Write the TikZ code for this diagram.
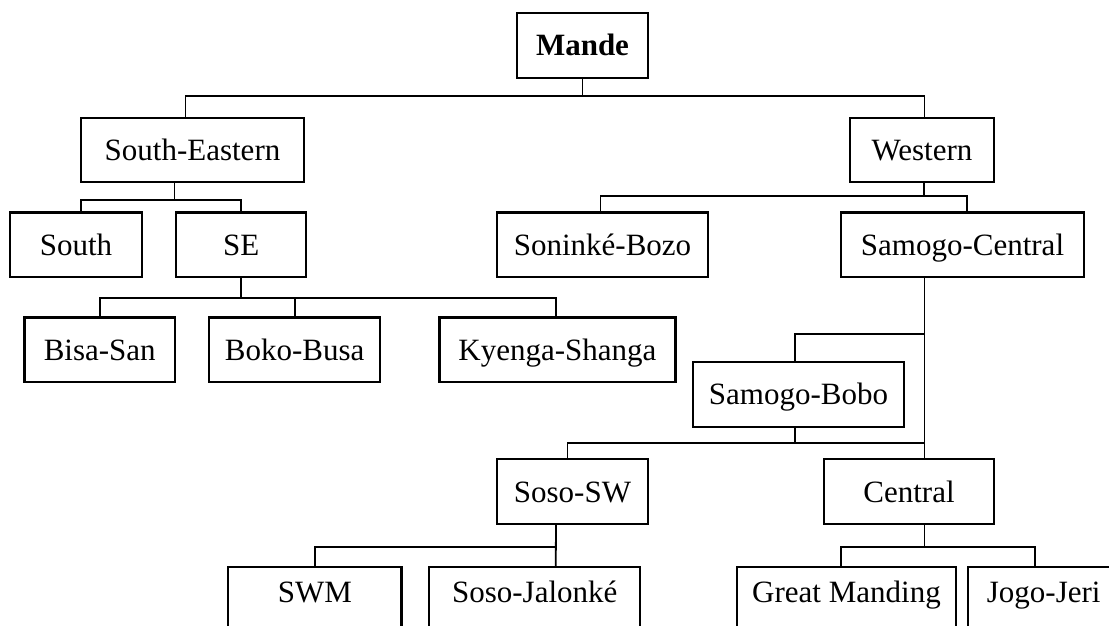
\documentclass[tikz,border=0pt]{standalone}
\usepackage{fontspec}
\setmainfont{Liberation Serif}
\usepackage{tikz}
\usetikzlibrary{positioning}

\begin{document}
\begin{tikzpicture}[x=1pt, y=-1pt,
		box/.style={draw, line width=2.2pt, minimum height=64.5pt, inner xsep=0pt, text height=21pt, text depth=0pt, font=\fontsize{31}{37}\selectfont},
		leaf/.style={box, anchor=north, minimum height=0pt, inner ysep=14pt, text depth=40pt},
		link/.style={line width=1.8pt}]
			\path[use as bounding box, fill=white] (0,0) rectangle (1109,626);
			\clip (0,0) rectangle (1109,626);

			\node[box, minimum width=131pt, font=\fontsize{31}{37}\selectfont\bfseries] (mande) at (582.5,45.5) {Mande};
			\node[box, minimum width=223pt] (seast) at (192.5,150) {South-Eastern};
			\node[box, minimum width=144pt] (west) at (922,150) {Western};
			\node[box, minimum width=132pt] (south) at (76,244.7) {South};
			\node[box, minimum width=130pt, right=32pt of south] (se) {SE};
			\node[box, minimum width=211pt] (soninke) at (602.5,244.7) {Soninké-Bozo};
			\node[box, minimum width=243pt] (samcen) at (962.5,244.7) {Samogo-Central};
			\node[box, minimum width=150.5pt] (bisa) at (99.75,349.7) {Bisa-San};
			\node[box, minimum width=171pt, right=32pt of bisa] (boko) {Boko-Busa};
			\node[box, minimum width=236pt, right=57pt of boko] (kyenga) {Kyenga-Shanga};
			\node[box, minimum width=211pt] (sambobo) at (798.5,394.4) {Samogo-Bobo};
			\node[box, minimum width=151pt] (sososw) at (572.5,491.5) {Soso-SW};
			\node[box, minimum width=170pt] (central) at (909,491.5) {Central};
			\node[leaf, minimum width=173.5pt] (swm) at (314.8,566) {SWM};
			\node[leaf, minimum width=211pt, right=25.5pt of swm] (jalonke) {Soso-Jalonké};
			\node[leaf, minimum width=219pt] (manding) at (846.5,566) {Great Manding};
			\node[leaf, minimum width=151pt, right=10pt of manding] (jogo) {Jogo-Jeri};

			\draw[link] (mande.south) -- ++(0,17.5) coordinate (mj);
			\draw[link] (mj) -| ([xshift=-7pt]seast.north);
			\draw[link] (mj) -| ([xshift=2.5pt]west.north);

			\draw[link] ([xshift=-18pt]seast.south) -- ++(0,17) coordinate (sej);
			\draw[link] (sej) -| ([xshift=5pt]south.north);
			\draw[link] (sej) -| (se.north);

			\draw[link] (se.south) -- ++(0,20) coordinate (sj);
			\draw[link] (sj) -| (bisa.north);
			\draw[link] (sj) -| (boko.north);
			\draw[link] (sj) -| ([xshift=-1.5pt]kyenga.north);

			\draw[link] ([xshift=2pt]west.south) -- ++(0,12.5) coordinate (wj);
			\draw[link] (wj) -| ([xshift=-2pt]soninke.north);
			\draw[link] (wj) -| ([xshift=4.5pt]samcen.north);

			\draw[link] ([xshift=-38pt]samcen.south) -- ([xshift=15.5pt]central.north);
			\draw[link] ([xshift=-3.5pt]sambobo.north) -- ++(0,-27) -| ([xshift=-38pt]samcen.south);
			\draw[link] ([xshift=-3.5pt]sambobo.south) -- ++(0,15) coordinate (bj);
			\draw[link] (bj) -| ([xshift=-5pt]sososw.north);
			\draw[link] (bj) -| ([xshift=15.5pt]central.north);

			\draw[link] ([xshift=15.5pt]central.south) -- ++(0,22) coordinate (cj);
			\draw[link] (cj) -| ([xshift=-5.5pt]manding.north);
			\draw[link] (cj) -| ([xshift=-8.7pt]jogo.north);

			\draw[link] ([xshift=-16.5pt]sososw.south) -- ([xshift=21pt]jalonke.north);
			\draw[link] ([xshift=-16.5pt]sososw.south) -- ++(0,22) coordinate (ssj) -| (swm.north);
		\end{tikzpicture}
\end{document}
